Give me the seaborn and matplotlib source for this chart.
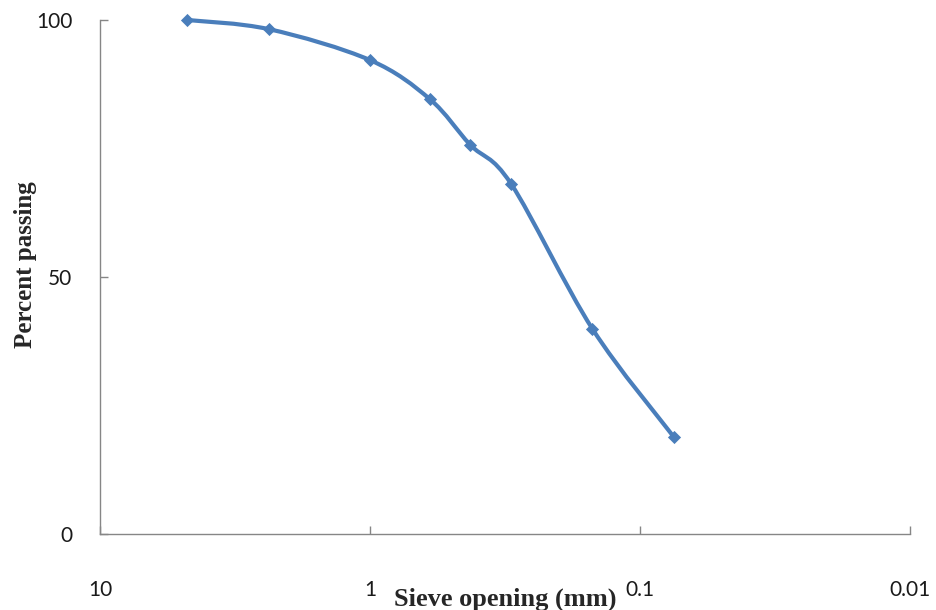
import numpy as np
import pandas as pd
import seaborn as sns
import matplotlib.pyplot as plt
from matplotlib.path import Path
from matplotlib.patches import PathPatch

sieve_mm = [4.75, 2.36, 1.0, 0.6, 0.425, 0.3, 0.15, 0.075]
percent_passing = [100.0, 98.2, 92.2, 84.6, 75.7, 68.1, 39.9, 18.9]
x_ticks = [10, 1, 0.1, 0.01]
x_tick_labels = ["10", "1", "0.1", "0.01"]
y_ticks = [0, 50, 100]

LINE_COLOR = "#4a7ebb"
AXIS_COLOR = "#868686"


def smooth_path(xs, ys):
    """Excel-style smoothed line: cubic Bezier through the points, built in log-x space."""
    lx = np.log10(xs)
    y = np.asarray(ys, dtype=float)
    n = len(lx)
    verts = [(xs[0], y[0])]
    codes = [Path.MOVETO]
    for i in range(n - 1):
        p0 = max(i - 1, 0)
        p3 = min(i + 2, n - 1)
        c1 = (lx[i] + (lx[i + 1] - lx[p0]) / 6, y[i] + (y[i + 1] - y[p0]) / 6)
        c2 = (lx[i + 1] - (lx[p3] - lx[i]) / 6, y[i + 1] - (y[p3] - y[i]) / 6)
        verts += [(10 ** c1[0], c1[1]), (10 ** c2[0], c2[1]), (xs[i + 1], y[i + 1])]
        codes += [Path.CURVE4] * 3
    return Path(verts, codes)


df = pd.DataFrame({"sieve": sieve_mm, "passing": percent_passing})

sns.set_style("white")
plt.rcParams["font.family"] = ["Lato", "DejaVu Sans"]

fig = plt.figure(figsize=(9.37, 6.1), dpi=100)
ax = fig.add_axes([100 / 937, 76 / 610, 810 / 937, 514 / 610])

ax.set_xscale("log")
ax.set_xlim(10, 0.01)
ax.set_ylim(0, 100)

ax.add_patch(PathPatch(smooth_path(sieve_mm, percent_passing), facecolor="none",
                       edgecolor=LINE_COLOR, lw=3.0, capstyle="round", joinstyle="round",
                       clip_on=False))
sns.scatterplot(data=df, x="sieve", y="passing", marker="D", s=45, color=LINE_COLOR,
                edgecolor=LINE_COLOR, linewidth=0, zorder=3, ax=ax, legend=False,
                clip_on=False)

ax.set_xticks(x_ticks)
ax.set_xticklabels(x_tick_labels)
ax.minorticks_off()
ax.set_yticks(y_ticks)
ax.set_yticklabels([str(v) for v in y_ticks])

# seaborn's white style hides the ticks, turn them back on (pointing inward)
ax.tick_params(axis="x", which="major", bottom=True)
ax.tick_params(axis="y", which="major", left=True)
ax.tick_params(axis="both", direction="in", length=6, width=1, color=AXIS_COLOR,
               labelsize=15, labelcolor="#1a1a1a")
ax.tick_params(axis="x", pad=33)
ax.tick_params(axis="y", pad=20)

for side in ["top", "right"]:
    ax.spines[side].set_visible(False)
for side in ["left", "bottom"]:
    ax.spines[side].set_color(AXIS_COLOR)
    ax.spines[side].set_linewidth(1.0)

serif = ["Liberation Serif", "DejaVu Serif"]
ax.set_xlabel("Sieve opening (mm)", family=serif, fontweight="bold", fontsize=19)
ax.set_ylabel("Percent passing", family=serif, fontweight="bold", fontsize=18)
ax.xaxis.set_label_coords(0.5, -0.104)
ax.yaxis.set_label_coords(-0.078, 0.525)

fig.savefig("out.png", dpi=100)
